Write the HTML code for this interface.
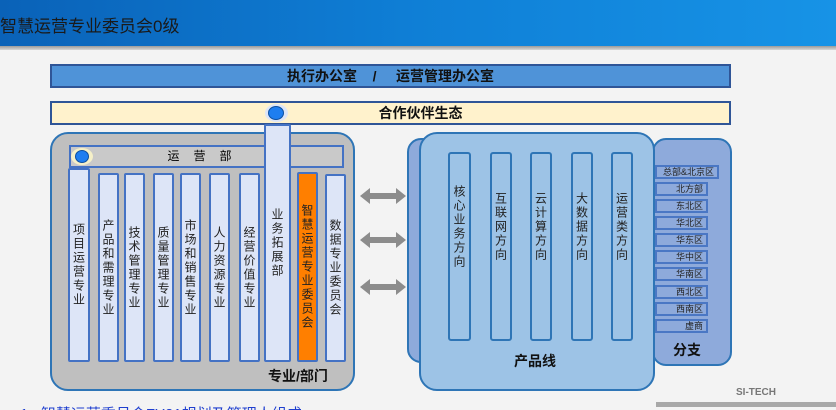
<!DOCTYPE html>
<html><head><meta charset="utf-8"><style>
html,body{margin:0;width:836px;height:410px;overflow:hidden}
body{background:#f3f3f3;font-family:"Liberation Sans","Noto Sans CJK SC",sans-serif;position:relative}
.a{position:absolute;box-sizing:border-box}
.col{position:absolute;box-sizing:border-box;background:#dde5f7;border:2px solid #4472c4;border-radius:2px;display:flex;align-items:center;justify-content:center;writing-mode:vertical-rl;text-orientation:upright;font-size:12px;color:#222;letter-spacing:2px}
.pc{position:absolute;box-sizing:border-box;background:#9dc3e6;border:2px solid #2e75b6;border-radius:3px;display:flex;align-items:center;justify-content:center;writing-mode:vertical-rl;text-orientation:upright;font-size:12px;color:#222;letter-spacing:2px;padding-bottom:40px}
.br{position:absolute;box-sizing:border-box;left:655px;width:53px;height:14px;background:#8eaadb;border:2px solid #4a77c4;font-size:9px;color:#222;text-align:right;padding-right:3px;line-height:10px}
</style></head><body>
<div class="a" style="left:0;top:0;width:836px;height:46px;background:linear-gradient(90deg,#0a62b8,#0f7fd6 50%,#1793e6)"></div>
<div class="a" style="left:0;top:46px;width:836px;height:4px;background:linear-gradient(#9a9a9a,#d8d8d8)"></div>
<div class="a" style="left:0;top:12px;font-size:17px;color:#1a1a1a">智慧运营专业委员会0级</div>
<div class="a" style="left:50px;top:64px;width:681px;height:24px;background:#4f93d8;border:2px solid #2f5597;text-align:center;font-size:14px;font-weight:bold;line-height:20px;color:#111">执行办公室 &nbsp;&nbsp;&nbsp;/ &nbsp;&nbsp;&nbsp; 运营管理办公室</div>
<div class="a" style="left:50px;top:101px;width:681px;height:24px;background:#fff2cc;border:2px solid #2f5597;text-align:center;font-size:14px;font-weight:bold;line-height:20px;color:#111;padding-left:60px">合作伙伴生态</div>
<div class="a" style="left:50px;top:132px;width:305px;height:259px;background:#bfbfbf;border:2px solid #2e75b6;border-radius:18px"></div>
<div class="a" style="left:69px;top:145px;width:275px;height:23px;background:#c9c9c9;border:2px solid #4472c4;text-align:center;font-size:12px;line-height:19px;letter-spacing:14px">运营部</div>
<div class="a" style="left:71px;top:148px;width:22px;height:17px;background:#f5f0c8;border-radius:50%"></div>
<div class="a" style="left:75px;top:150px;width:14px;height:13px;background:#1e7ef0;border:1px solid #0c4fa0;border-radius:50%"></div>
<div class="col" style="left:68px;top:168px;width:22px;height:194px">项目运营专业</div>
<div class="col" style="left:98px;top:173px;width:21px;height:189px">产品和需理专业</div>
<div class="col" style="left:124px;top:173px;width:21px;height:189px">技术管理专业</div>
<div class="col" style="left:153px;top:173px;width:21px;height:189px">质量管理专业</div>
<div class="col" style="left:180px;top:173px;width:21px;height:189px">市场和销售专业</div>
<div class="col" style="left:209px;top:173px;width:21px;height:189px">人力资源专业</div>
<div class="col" style="left:239px;top:173px;width:21px;height:189px">经营价值专业</div>
<div class="col" style="left:264px;top:124px;width:27px;height:238px">业务拓展部</div>
<div class="col" style="left:297px;top:172px;width:21px;height:190px;background:#ff7f00;border-color:#4472c4;color:#222">智慧运营专业委员会</div>
<div class="col" style="left:325px;top:174px;width:21px;height:188px">数据专业委员会</div>
<div class="a" style="left:265px;top:104px;width:23px;height:18px;background:#dde5f7;border-radius:50%"></div>
<div class="a" style="left:268px;top:106px;width:16px;height:14px;background:#1e7ef0;border:1px solid #0c4fa0;border-radius:50%"></div>
<div class="a" style="left:268px;top:366px;font-size:14px;font-weight:bold;color:#111">专业/部门</div>
<svg class="a" style="left:358px;top:185px" width="50" height="112">
<g fill="#8c8c8c"><polygon points="2,11 12,3 12,8 38,8 38,3 48,11 38,19 38,14 12,14 12,19"/><polygon points="2,55 12,47 12,52 38,52 38,47 48,55 38,63 38,58 12,58 12,63"/><polygon points="2,102 12,94 12,99 38,99 38,94 48,102 38,110 38,105 12,105 12,110"/></g></svg>
<div class="a" style="left:652px;top:138px;width:80px;height:228px;background:#8eaadb;border:2px solid #2e75b6;border-radius:14px"></div>
<div class="a" style="left:407px;top:138px;width:40px;height:225px;background:#8eaadb;border:2px solid #2e75b6;border-radius:14px"></div>
<div class="a" style="left:419px;top:132px;width:236px;height:259px;background:#9dc3e6;border:2px solid #2e75b6;border-radius:18px"></div>
<div class="pc" style="left:448px;top:152px;width:23px;height:189px">核心业务方向</div>
<div class="pc" style="left:490px;top:152px;width:22px;height:189px">互联网方向</div>
<div class="pc" style="left:530px;top:152px;width:22px;height:189px">云计算方向</div>
<div class="pc" style="left:571px;top:152px;width:22px;height:189px">大数据方向</div>
<div class="pc" style="left:611px;top:152px;width:22px;height:189px">运营类方向</div>
<div class="a" style="left:514px;top:351px;font-size:14px;font-weight:bold;color:#111">产品线</div>
<div class="br" style="top:165px;width:64px">总部&amp;北京区</div>
<div class="br" style="top:182px">北方部</div>
<div class="br" style="top:199px">东北区</div>
<div class="br" style="top:216px">华北区</div>
<div class="br" style="top:233px">华东区</div>
<div class="br" style="top:250px">华中区</div>
<div class="br" style="top:267px">华南区</div>
<div class="br" style="top:285px">西北区</div>
<div class="br" style="top:302px">西南区</div>
<div class="br" style="top:319px">虚商</div>
<div class="a" style="left:673px;top:340px;font-size:14px;font-weight:bold;color:#111">分支</div>
<div class="a" style="left:736px;top:387px;font-size:10px;font-weight:bold;color:#777">SI-TECH</div>
<div class="a" style="left:656px;top:402px;width:180px;height:5px;background:#a8a8a8"></div>
<div class="a" style="left:20px;top:403px;font-size:15px;color:#1f3fcf;white-space:nowrap">1. &nbsp;智慧运营委员会FY21规划及管理人组成</div>
</body></html>
